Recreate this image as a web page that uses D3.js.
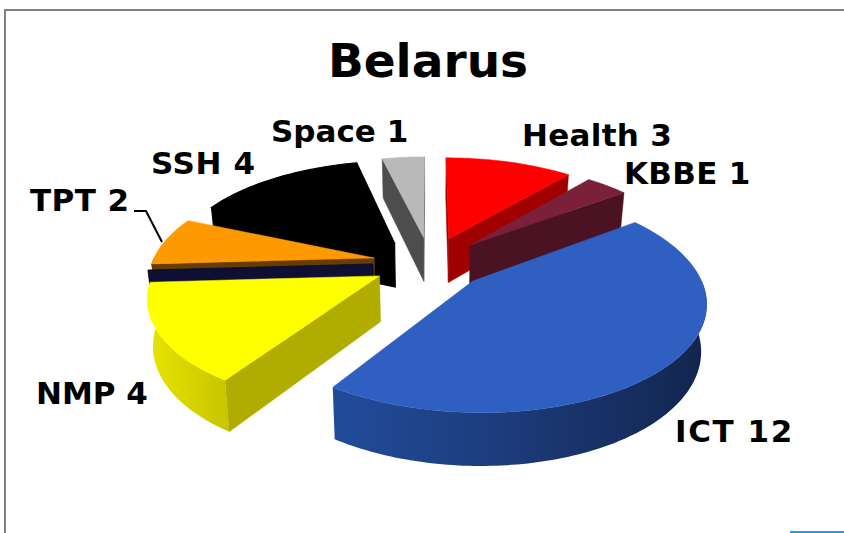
<!DOCTYPE html>
<html>
<head>
<meta charset="utf-8">
<script src="https://cdnjs.cloudflare.com/ajax/libs/d3/7.8.5/d3.min.js"></script>
<style>
  html, body { margin: 0; padding: 0; background: #fff; }
  svg { display: block; }
  text { font-family: "DejaVu Sans", sans-serif; font-weight: bold; fill: #000; }
</style>
</head>
<body>
<svg id="chart" width="844" height="533"></svg>
<script>
// Values (the empty one is the zero slice that only shows its side)
const categories = ["Health", "KBBE", "ICT", "NMP", "", "TPT", "SSH", "Space"];
const values = [3, 1, 12, 4, 0, 2, 4, 1];
const title = "Belarus";

// Styles and label places, by category
const topColors = { Health: "#ff0000", KBBE: "#7b2039", ICT: "#2e5fc1", NMP: "#ffff00", "": "#0f0f33", TPT: "#ff9900", SSH: "#000000", Space: "#b9b9b9" };
const wallColors = { Health: "#a00000", KBBE: "#4a1222", ICT: "#1c3a78", NMP: "#b0ac00", "": "#0f0f33", TPT: "#663d00", SSH: "#000000", Space: "#4d4d4d" };
const rimStops = {
  ICT: ["#214c9a", "#1c3a78", "#12254e"],
  NMP: ["#e8e400", "#d8d400", "#c8c400"]
};
const labelPlaces = {
  Health: [522, 146], KBBE: [624, 184], ICT: [675, 442], NMP: [36, 404],
  TPT: [30, 211], SSH: [151, 174], Space: [271, 142]
};
const labelSpacing = { ICT: 1.6, Health: 0.3, KBBE: 0.3, TPT: 0.4, SSH: 0.6 };
const drawOrder = ["Space", "SSH", "Health", "KBBE", "TPT", "", "NMP", "ICT"];

const svg = d3.select("#chart");
const defs = svg.append("defs");

// Frame
svg.append("path")
  .attr("d", "M5,533V10H844")
  .attr("fill", "none")
  .attr("stroke", "#808080")
  .attr("stroke-width", 2);
svg.append("rect")
  .attr("x", 790).attr("y", 531)
  .attr("width", 54).attr("height", 2)
  .attr("fill", "#1ba1e2");

// Title
svg.append("text")
  .attr("x", 428)
  .attr("y", 77)
  .attr("text-anchor", "middle")
  .attr("font-size", 47)
  .text(title);

// Pie layout, then a simple perspective view of the ground plane
const cx = 430, cy = 262.5;
const radius = 222, explode = 57, depth = 46;
const tilt = 0.46, persp = 0.17, shrink = 0.02;

const pie = d3.pie().sort(null).startAngle(0).endAngle(2 * Math.PI);
const arcs = pie(values).map((a, i) => ({ ...a, name: categories[i] }));

function project(u, v, h) {
  const f = (1 - shrink * h) / (1 - persp * v / radius);
  return [cx + u * f, cy + tilt * v * f + depth * f * h];
}

// point of a slice: r along angle t, from the slice's moved apex
function slicePoint(d, r, t, h) {
  const mid = (d.startAngle + d.endAngle) / 2;
  const u = explode * Math.sin(mid) + r * Math.sin(t);
  const v = -explode * Math.cos(mid) - r * Math.cos(t);
  return project(u, v, h);
}

function arcPoints(d, a0, a1, h) {
  const n = Math.max(2, Math.ceil((a1 - a0) / 0.02));
  return d3.range(n + 1).map(i => slicePoint(d, radius, a0 + (a1 - a0) * i / n, h));
}

const line = d3.line().curve(d3.curveLinearClosed);
const pieG = svg.append("g");

// Leader line for TPT goes under the slices
svg.insert("path", "g")
  .attr("d", d3.line()([[134, 211], [146, 211], [162, 242]]))
  .attr("fill", "none")
  .attr("stroke", "#000")
  .attr("stroke-width", 2);

drawOrder.forEach(name => {
  const d = arcs.find(a => a.name === name);
  const g = pieG.append("g");
  // SSH is all black, so its seams must not show at all
  const seam = name === "SSH" ? 1.2 : 0.5;

  // Radial walls, only those facing the viewer
  [[d.startAngle, 1], [d.endAngle, -1]].forEach(([t, side]) => {
    const wall = [
      slicePoint(d, 0, t, 0),
      slicePoint(d, radius, t, 0),
      slicePoint(d, radius, t, 1),
      slicePoint(d, 0, t, 1)
    ];
    if (d.value === 0 || d3.polygonArea(wall) * side > 0) {
      g.append("path")
        .attr("d", line(wall))
        .attr("fill", wallColors[name])
        .attr("stroke", wallColors[name])
        .attr("stroke-width", seam);
    }
  });

  // Outer rim, front half only
  const a0 = Math.max(d.startAngle, Math.PI / 2);
  const a1 = Math.min(d.endAngle, 3 * Math.PI / 2);
  if (a1 > a0) {
    const rim = arcPoints(d, a0, a1, 0).concat(arcPoints(d, a0, a1, 1).reverse());
    let fill = wallColors[name];
    if (rimStops[name]) {
      const [x0, x1] = d3.extent(rim, p => p[0]);
      const id = "rim" + name;
      defs.append("linearGradient")
        .attr("id", id)
        .attr("gradientUnits", "userSpaceOnUse")
        .attr("x1", x0).attr("x2", x1)
        .attr("y1", 0).attr("y2", 0)
        .selectAll("stop")
        .data(rimStops[name])
        .join("stop")
        .attr("offset", (s, i) => i / (rimStops[name].length - 1))
        .attr("stop-color", s => s);
      fill = `url(#${id})`;
    }
    g.append("path").attr("d", line(rim)).attr("fill", fill);
  }

  // Top face
  if (d.value > 0) {
    const face = [slicePoint(d, 0, d.startAngle, 0)].concat(arcPoints(d, d.startAngle, d.endAngle, 0));
    g.append("path")
      .attr("d", line(face))
      .attr("fill", topColors[name])
      .attr("stroke", topColors[name])
      .attr("stroke-width", seam);
  }
});

// Labels
arcs.filter(d => d.value > 0).forEach(d => {
  svg.append("text")
    .attr("x", labelPlaces[d.name][0])
    .attr("y", labelPlaces[d.name][1])
    .attr("font-size", 31)
    .attr("letter-spacing", labelSpacing[d.name] || 0)
    .text(`${d.name} ${d.value}`);
});
</script>
</body>
</html>
